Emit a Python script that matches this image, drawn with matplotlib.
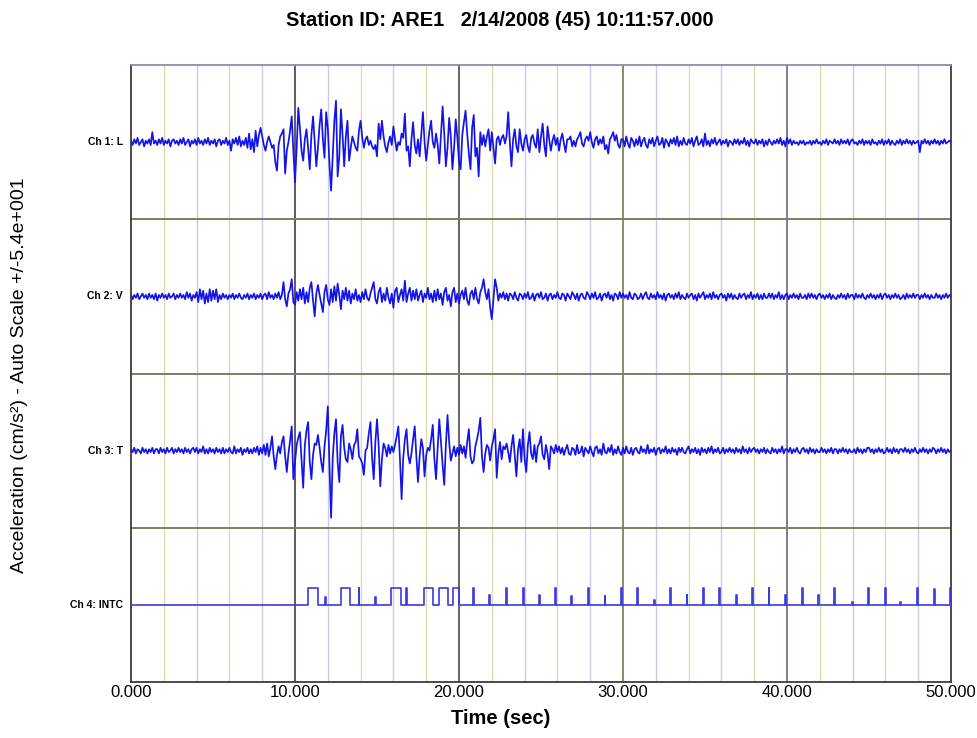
import numpy as np
import matplotlib
matplotlib.use("Agg")
import matplotlib.pyplot as plt

plt.rcParams['font.family'] = ['Liberation Sans', 'DejaVu Sans']

# Muestreo de las trazas (s) y escala automatica (cm/s^2)
DT = 0.1
FULL_SCALE = 54

# --- Ch 1: L  (valores leidos cada 0.1 s) ---
ch1_L = [
    1, -2, 2, -1, 3, -2, 0, 2, -3, 1,
    -1, 2, -2, 7, -1, 1, -2, 2, -1, 3,
    -2, 1, -1, 2, -3, 1, 2, -1, 1, -2,
    2, -1, 3, -2, 0, 2, -3, 1, -1, 2,
    -2, 3, -1, 1, -2, 2, -1, 3, -2, 1,
    -1, 2, -3, 1, 2, -2, 1, -1, 3, -2,
    1, -6, 2, -1, 3, -2, 4, -3, 1, -2,
    3, -4, 6, -5, 2, -7, 8, -3, 5, 10,
    4, -2, -6, 0, 4, 0, -4, -2, -14, -20,
    -2, 4, 6, 9, -22, -6, 0, 8, 18, -6,
    -28, -5, 24, 10, -6, -13, 2, 9, -4, -19,
    5, 18, 0, -17, -4, 12, 23, 2, -11, 21,
    10, -15, -34, -10, 15, 29, -24, -10, 23, 5,
    -17, 4, 15, -13, -4, 4, 0, -4, -6, 8,
    15, 3, -4, 2, 4, -2, 1, -3, -5, -2,
    -10, 13, 2, 15, 4, -3, -7, 0, 4, -2,
    11, 2, -6, 0, -2, 6, 3, 20, -6, -3,
    -17, 2, 14, -2, -8, 2, -10, 6, 21, 0,
    -13, -2, 8, 15, 0, -4, 6, -2, -15, 5,
    25, 6, -17, -4, 17, 4, -19, -4, 16, 3,
    -13, -19, 5, 14, 22, 6, -8, -19, 10, 19,
    -10, -4, -24, 7, -2, 5, -3, 4, 9, -6,
    7, -4, -15, 2, 4, -2, 3, 5, -1, 4,
    21, 0, -17, 2, 9, -3, -7, 9, -1, -6,
    2, 5, -3, -7, 3, 5, -1, -4, 9, -7,
    4, 13, -2, -10, 11, 2, -6, 1, 5, -2,
    3, -6, 2, 6, -1, -7, 2, 2, 4, -3,
    1, -3, 2, 4, 7, -1, -3, 2, 4, 1,
    7, 0, -4, 2, 4, -2, 2, -1, 4, -5,
    -2, -8, 2, 4, 7, 1, 5, -2, -4, 2,
    2, -3, 4, -1, -4, 3, 1, -3, 2, -2,
    4, -3, 1, 3, -2, -4, 2, -1, 3, -3,
    1, 4, -2, -1, 3, -4, 2, 0, -3, 2,
    -1, 3, -2, 4, -3, 1, -2, 3, -1, -2,
    2, -1, 3, -3, 1, 4, -2, -1, 2, -3,
    6, -2, 1, -3, 2, -1, 3, -2, 0, 2,
    -2, 1, -1, 2, -3, 1, 0, -2, 2, -1,
    2, -2, 1, -1, 3, -2, 1, -3, 2, 0,
    -1, 2, -2, 1, -1, 2, -3, 1, -2, 2,
    0, -2, 1, -1, 2, -1, 3, -2, 1, -3,
    3, -1, 2, -2, 1, -1, 0, -2, 1, -1,
    1, -2, 0, -1, 1, -2, 1, -1, 2, -1,
    0, -2, 1, -1, 2, -2, 1, 0, -1, 2,
    -1, 1, -2, 2, -1, 1, -1, 2, -2, 1,
    2, -1, 0, -2, 1, -1, 2, -2, 1, -1,
    1, -2, 2, -1, 0, -2, 1, -1, 2, -2,
    1, -1, 2, -2, 1, -1, -2, 1, -1, 2,
    -2, 1, -1, 2, -1, 1, -2, 1, -1, 0,
    1, -7, 1, -1, 2, -1, 1, -2, 1, -1,
    2, -1, 1, -2, 1, -1, 2, -1, 0, 1,
    0,
]

# --- Ch 2: V ---
ch2_V = [
    1, -2, 1, -1, 2, -2, 0, 2, -1, 1,
    -2, 2, -1, 1, -2, 2, -3, 1, -1, 2,
    -1, 1, -2, 2, -1, 0, 2, -2, 1, -1,
    2, -1, 1, -2, 3, -1, 2, -3, 1, -1,
    3, -4, 5, -2, 4, -5, 2, -4, 5, -3,
    4, -2, 5, -4, 1, -2, 2, -1, 1, -2,
    1, -1, 2, -2, 1, -1, 2, -1, -2, 1,
    -1, 2, -2, 1, -1, 2, -2, 1, -1, 2,
    -2, 1, 2, -2, 3, -1, 1, -2, 2, -1,
    3, -2, 1, 10, -2, -7, 2, 5, 12, -4,
    -6, 3, -3, 5, -2, 6, -5, 3, -4, 6,
    10, -3, -14, 2, 8, 1, -5, -11, 3, 8,
    -2, -6, 5, -4, 7, -3, 9, 1, -9, 4,
    -2, 6, -3, 4, -5, 2, -2, 5, -3, 1,
    -4, 3, -2, 5, -1, -3, 2, 6, 10, -2,
    -5, 3, 6, -4, 2, -3, 6, -1, -5, 2,
    -8, 4, 6, -4, 1, 5, -3, 11, -4, 2,
    6, -3, 4, -2, 5, -3, 1, 4, -4, 2,
    -1, 6, -2, 2, -4, 4, -3, 5, -2, 2,
    -6, 3, 6, -3, 1, -7, 3, 6, -4, 2,
    -5, 1, 4, -2, 6, -3, -6, 2, 4, -2,
    6, -2, -5, 3, 6, 12, 3, -2, 5, -8,
    -16, -2, 12, 6, -3, 2, -1, 3, -2, 2,
    -3, 2, 1, -2, 3, -1, -3, 2, 1, -2,
    2, -1, 3, -2, -1, 2, -3, 1, 2, -1,
    3, -2, -1, 2, -3, 1, 2, -2, 1, -1,
    3, -1, -2, 2, 1, -3, 2, 0, -2, 3,
    1, -2, 2, -3, 1, 2, -1, -2, 3, 1,
    -2, 2, -1, 3, -2, -1, 2, -3, 1, 2,
    -1, 3, -2, 1, -3, 2, 1, -2, 3, -1,
    2, -1, 1, -2, 3, -1, -2, 2, 1, -2,
    -1, 2, -2, 1, 3, -1, -2, 2, -1, 1,
    -2, 3, -1, 1, -2, 2, -3, 1, 2, -1,
    1, -2, 2, -1, 3, -2, 1, -1, -2, 2,
    -1, 1, 2, -2, 1, -3, 2, -1, 1, 3,
    -2, 1, -1, 2, -2, 3, -1, 1, -2, 1,
    2, -1, 1, -3, 2, -1, 2, -2, 1, -1,
    -2, 2, -1, 1, 2, -2, 1, -1, 3, -2,
    1, -1, 2, -2, 1, -2, 2, -1, -1, 2,
    -1, 2, -2, 1, -1, 3, -2, 1, -2, 1,
    2, -2, 1, -1, 2, -1, 1, -2, 2, -1,
    -1, 1, -2, 2, -1, 2, -1, 1, -2, 1,
    2, -1, 1, -2, 1, -1, 2, -2, 1, -1,
    -2, 1, -1, 2, -1, 1, -2, 2, -1, 1,
    1, -2, 2, -1, 1, -1, 2, -1, -2, 1,
    -1, 2, -1, 1, -2, 1, -1, 2, -2, 1,
    2, -1, 1, -2, 1, -1, 2, -1, 1, -2,
    -1, 1, -2, 2, -1, 1, -1, 2, -1, 1,
    1, -2, 1, -1, 2, -1, 1, -2, 1, -1,
    -1, 2, -1, 1, -2, 1, -1, 2, -1, 1,
    0,
]

# --- Ch 3: T ---
ch3_T = [
    1, -1, 2, -2, 1, 0, -2, 2, -1, 1,
    -2, 1, -1, 2, -2, 1, 1, -2, 2, -1,
    1, -2, 2, -1, 0, 2, -2, 1, -1, 2,
    -1, 1, -2, 2, -1, 1, -2, 1, 2, -1,
    2, -2, 1, -1, 3, -2, 1, -2, 2, -1,
    1, -2, 2, -1, 1, -2, 2, -2, 1, -1,
    2, -1, -2, 3, -2, 1, -1, 2, -3, 1,
    -1, 2, -2, 1, -2, 2, -1, 3, -3, 2,
    -2, 4, -3, 5, -4, 2, 10, -4, -13, -3,
    3, -2, 6, 10, -4, -15, -2, 7, 17, -20,
    -8, 4, 9, 13, -6, -26, 4, 14, 20, -8,
    -20, -3, 5, 4, 11, 2, -8, -15, 3, 14,
    31, -10, -47, -5, 12, 22, -8, -22, 10, 18,
    2, -6, -8, 5, 1, -6, 4, 6, 15, -4,
    -6, -9, -17, 0, 2, 12, 20, -5, -20, 6,
    22, 4, -25, -6, 5, 2, -4, 4, -2, 3,
    -1, 4, 10, 17, -6, -34, -5, 8, 15, -3,
    -9, -2, 8, 17, -4, -22, -4, 8, 2, -18,
    -3, 2, 0, 8, 18, -6, -20, 2, 22, 6,
    -10, -24, 4, 25, 6, -7, -2, 3, -4, 2,
    -3, 4, -2, 3, -5, 6, 15, -4, -9, -7,
    3, 8, 14, 23, -4, -15, -2, 4, 2, -7,
    3, 8, 15, -19, -2, 6, -6, 3, 1, 5,
    -1, -8, 3, 11, -4, -18, 1, 8, -8, 15,
    -6, -15, 4, 13, -2, -6, 4, -8, 3, 5,
    10, -3, -6, 4, -2, -13, 3, 1, -2, 4,
    -1, 3, -2, 2, -3, 1, 4, -2, -3, 2,
    1, -3, 4, -2, -1, 3, -4, 2, 0, -2,
    3, -1, -4, 2, 3, -2, 1, -3, 5, -1,
    -2, 2, -1, 4, -3, 1, -2, 3, -1, -3,
    2, -2, 3, -1, -2, 2, -3, 1, 2, -1,
    -2, 3, -1, 1, -2, 4, -2, 1, -1, 2,
    -3, 1, 2, -2, 1, -1, 3, -2, 1, -2,
    2, -1, 1, -3, 2, -1, 2, -1, -2, 1,
    3, -2, 1, -1, 2, -2, 1, -3, 2, -1,
    1, -2, 2, -1, 3, -2, 1, -1, 2, -2,
    -1, 2, -2, 1, -1, 2, -1, 1, -2, 2,
    -1, 1, -2, 3, -1, 1, -2, 2, -1, 1,
    2, -1, 1, -2, 1, -1, 2, -2, 1, -1,
    -2, 2, -1, 1, -2, 1, -1, 3, -2, 1,
    1, -1, 2, -2, 1, -1, 2, -1, -2, 1,
    2, -1, 1, -2, 2, -1, 1, -2, 1, -1,
    -1, 2, -1, 1, -2, 1, -1, 2, -2, 1,
    1, -2, 1, -1, 2, -1, 1, -2, 1, -1,
    -1, 1, -2, 2, -1, 1, -2, 1, -1, 2,
    2, -1, 1, -2, 1, -1, 2, -1, 1, -2,
    -1, 2, -1, 1, -2, 2, -1, 1, -2, 1,
    1, -1, 2, -1, 1, -2, 1, -1, 2, -1,
    -2, 1, -1, 2, -1, 1, -2, 1, -1, 2,
    1, -2, 1, -1, 2, -1, 1, -2, 1, -1,
    0,
]

# --- Ch 4: INTC (pulsos de tiempo) ---
pulse_start = [10.81, 11.85, 12.80, 13.88, 14.86, 15.85, 16.78, 17.88, 18.80, 19.65,
               20.85, 21.83, 22.88, 23.90, 24.86, 25.88, 26.85, 27.88, 28.88, 29.88,
               30.88, 31.88, 32.88, 33.88, 34.88, 35.88, 36.88, 37.88, 38.88, 39.88,
               40.93, 41.88, 42.88, 43.96, 44.94, 45.96, 46.91, 47.93, 48.95, 49.93]
pulse_end = [11.42, 11.90, 13.35, 13.93, 14.91, 16.45, 16.83, 18.39, 19.35, 20.02,
             20.90, 21.88, 22.93, 23.95, 24.91, 25.93, 26.90, 27.93, 28.93, 29.93,
             30.93, 31.93, 32.93, 33.93, 34.93, 35.93, 36.93, 37.93, 38.93, 39.93,
             40.98, 41.93, 42.93, 44.01, 44.99, 46.01, 46.96, 47.98, 49.00, 49.99]
pulse_level = [1.0, 0.45, 1.0, 1.0, 0.45, 1.0, 1.0, 1.0, 1.0, 1.0,
               1.0, 0.6, 1.0, 1.0, 0.55, 1.0, 0.5, 1.0, 0.5, 1.0,
               1.0, 0.3, 1.0, 0.6, 1.0, 1.0, 0.6, 1.0, 1.0, 0.6,
               1.0, 0.55, 1.0, 0.15, 1.0, 1.0, 0.15, 1.0, 0.9, 1.0]
PULSE_HEIGHT = 12

channel_labels = ["Ch 1: L", "Ch 2: V", "Ch 3: T", "Ch 4: INTC"]
x_ticks = [0, 10, 20, 30, 40, 50]
x_ticklabels = ["0.000", "10.000", "20.000", "30.000", "40.000", "50.000"]

TRACE_COLOR = '#1414e8'
PANEL = 2 * FULL_SCALE

fig = plt.figure(figsize=(9.78, 7.38), dpi=100)
ax = fig.add_axes([131 / 978, 1 - 682 / 738, 820 / 978, 617 / 738])
ax.set_xlim(0, 50)
ax.set_ylim(0, 4 * PANEL)

# rejilla vertical
for t in range(2, 50, 2):
    if t % 10 == 0:
        col = {10: '#2e2e44', 20: '#3a3a3a', 30: '#6b6b45', 40: '#5a5a80'}[t]
        ax.axvline(t, color=col, lw=1.1, zorder=1)
    else:
        col = '#d9dcae' if t % 4 == 2 else '#c9c9e8'
        ax.axvline(t, color=col, lw=1.0, zorder=1)

# separadores entre canales
for k in range(1, 4):
    ax.axhline(k * PANEL, color='#7d7d60', lw=1.4, zorder=1)

# trazas de aceleracion
traces = [ch1_L, ch2_V, ch3_T]
for k, vals in enumerate(traces):
    vals = np.array(vals, dtype=float)
    t = np.arange(len(vals)) * DT
    center = (3 - k) * PANEL + FULL_SCALE
    ax.plot(t, center + vals, color=TRACE_COLOR, lw=1.25, zorder=3)

# canal de tiempo INTC
xs, ys = [0.0], [0.0]
for s, e, h in zip(pulse_start, pulse_end, pulse_level):
    xs += [s, s, e, e]
    ys += [0, h * PULSE_HEIGHT, h * PULSE_HEIGHT, 0]
xs.append(50.0)
ys.append(0.0)
ax.plot(xs, np.array(ys) + FULL_SCALE, color='#3a3ae0', lw=1.2, zorder=3)

# etiquetas de canal
for k, lab in enumerate(channel_labels):
    center = (3 - k) * PANEL + FULL_SCALE
    ax.text(-0.010, center, lab, transform=ax.get_yaxis_transform(),
            ha='right', va='center', fontsize=7.5, fontweight='bold',
            family=['Liberation Sans Narrow', 'Liberation Sans'])

ax.set_xticks(x_ticks)
ax.set_xticklabels(x_ticklabels, fontsize=12)
ax.tick_params(axis='x', length=0, pad=2)
ax.set_yticks([])

for side, sp in ax.spines.items():
    sp.set_color('#3c3c3c')
    sp.set_linewidth(1.3)
ax.spines['top'].set_color('#8c8ca8')

fig.text(500 / 978, 1 - 20 / 738, "Station ID: ARE1   2/14/2008 (45) 10:11:57.000",
         ha='center', va='center', fontsize=14.4, fontweight='bold')
fig.text(501 / 978, 1 - 719 / 738, "Time (sec)", ha='center', va='center',
         fontsize=14.5, fontweight='bold')
fig.text(20 / 978, 1 - 375 / 738, "Acceleration (cm/s²) - Auto Scale +/-5.4e+001",
         rotation=90, ha='center', va='center', fontsize=14)

fig.savefig("out.png", dpi=100)
